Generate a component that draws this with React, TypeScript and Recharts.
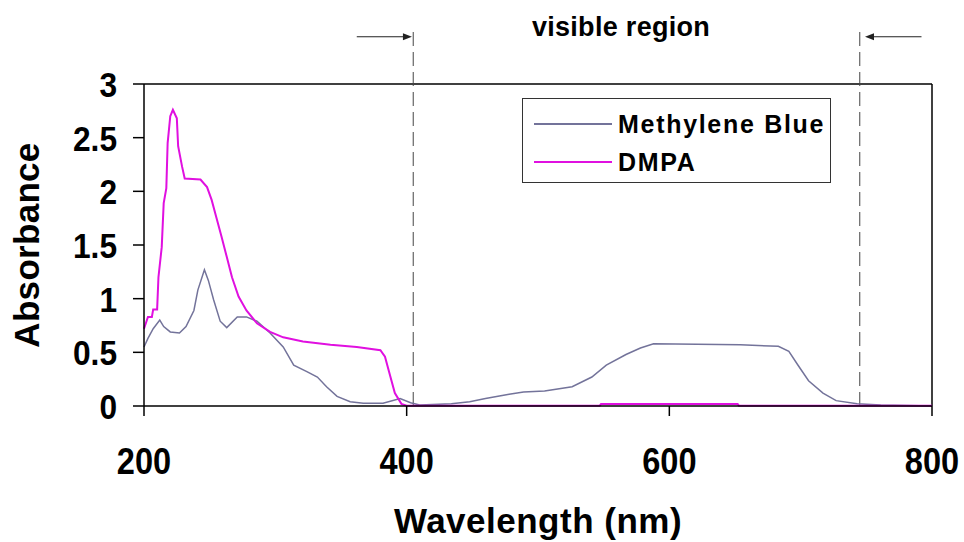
import { Legend, Line, LineChart, ReferenceLine, XAxis, YAxis } from "recharts";

// UV-Vis absorbance spectra (wavelength in nm)
const mbWavelength = [
  200, 203, 207, 212, 215, 220, 227, 232, 238, 241, 246, 249, 253, 258, 263, 271, 278, 286, 296, 306,
  314, 324, 332, 339, 347, 357, 367, 382, 395, 403, 410, 434, 448, 460, 478, 489, 505, 526, 541, 552,
  567, 578, 588, 654, 683, 691, 698, 706, 717, 727, 743, 761, 800,
];
const mbAbsorbance = [
  0.55, 0.63, 0.72, 0.8, 0.74, 0.69, 0.68, 0.74, 0.89, 1.08, 1.27, 1.17, 0.99, 0.79, 0.73, 0.83, 0.83,
  0.79, 0.68, 0.55, 0.38, 0.32, 0.27, 0.18, 0.09, 0.04, 0.025, 0.025, 0.07, 0.03, 0.01, 0.02, 0.04,
  0.07, 0.11, 0.13, 0.14, 0.18, 0.27, 0.38, 0.48, 0.54, 0.58, 0.57, 0.556, 0.51, 0.38, 0.235, 0.12,
  0.05, 0.02, 0.01, 0,
];

const dmpaWavelength = [
  200, 203, 206, 207, 210, 211, 213.5, 215, 217, 218, 220, 222, 225, 226, 229, 231, 243, 248, 251.5,
  255, 259, 263, 267, 272, 278, 286, 296, 306, 321, 342, 362, 380, 383.5, 387, 391, 396, 400, 547, 548,
  652, 653, 800,
];
const dmpaAbsorbance = [
  0.72, 0.83, 0.83, 0.9, 0.9, 1.2, 1.48, 1.89, 2.03, 2.45, 2.7, 2.76, 2.68, 2.42, 2.23, 2.12, 2.11,
  2.04, 1.92, 1.76, 1.58, 1.39, 1.2, 1.02, 0.89, 0.77, 0.69, 0.64, 0.6, 0.57, 0.55, 0.52, 0.46, 0.3,
  0.12, 0.02, 0.003, 0.003, 0.018, 0.018, 0.003, 0.003,
];

const seriesNames = ["Methylene Blue", "DMPA"];
const xTicks = [200, 400, 600, 800];
const yTicks = [0, 0.5, 1, 1.5, 2, 2.5, 3];

// visible-region markers above the plot
const visibleEdges = [405, 745];
const markerTop = 3.54;
const arrowLevel = 3.44;
const leftArrow = [362, 404];
const rightArrow = [792, 749];

const mbData = mbWavelength.map((wl, i) => ({ wl, abs: mbAbsorbance[i] }));
const dmpaData = dmpaWavelength.map((wl, i) => ({ wl, abs: dmpaAbsorbance[i] }));

const MB_COLOR = "#73739a";
const DMPA_COLOR = "#e010e0";
const FONT = "'Liberation Sans', Arial, sans-serif";

// tick digits are drawn slightly condensed
function XTick({ x, y, payload }: any) {
  return (
    <text
      transform={`translate(${x},${y}) scale(0.88,1)`}
      textAnchor="middle"
      dy="0.71em"
      fill="#000"
      fontFamily={FONT}
      fontWeight="bold"
      fontSize={37}
    >
      {payload.value}
    </text>
  );
}

function YTick({ x, y, payload }: any) {
  return (
    <text
      transform={`translate(${x},${y}) scale(0.88,1)`}
      textAnchor="end"
      dy="0.36em"
      fill="#000"
      fontFamily={FONT}
      fontWeight="bold"
      fontSize={36}
    >
      {payload.value}
    </text>
  );
}

function Arrow(props: any) {
  const { x1, y1, x2, y2 } = props;
  const dir = Math.sign(x2 - x1);
  return (
    <g>
      <line x1={x1} y1={y1} x2={x2 - dir * 6} y2={y2} stroke="#222" strokeWidth={1.2} />
      <polygon
        points={`${x2},${y2} ${x2 - dir * 9},${y2 - 3.5} ${x2 - dir * 9},${y2 + 3.5}`}
        fill="#222"
      />
    </g>
  );
}

function LegendBox({ payload }: any) {
  const items = [...(payload || [])].sort(
    (a: any, b: any) => seriesNames.indexOf(a.value) - seriesNames.indexOf(b.value)
  );
  return (
    <div
      style={{
        position: "relative",
        width: 307,
        height: 83,
        border: "1px solid #333",
        background: "#fff",
        fontFamily: FONT,
        fontWeight: "bold",
        fontSize: 25,
        letterSpacing: 1.7,
      }}
    >
      {items.map((entry: any, i: number) => (
        <div
          key={entry.value}
          style={{ position: "absolute", left: 11, top: 10 + i * 38, display: "flex", alignItems: "center" }}
        >
          <svg width={78} height={30} style={{ display: "block" }}>
            <line x1={0} y1={15} x2={78} y2={15} stroke={entry.color} strokeWidth={2} />
          </svg>
          <span style={{ marginLeft: 6, lineHeight: "30px", color: "#000" }}>{entry.value}</span>
        </div>
      ))}
    </div>
  );
}

export default function App() {
  return (
    <div style={{ position: "absolute", left: 0, top: 0, width: 964, height: 542, background: "#fff" }}>
      <div
        style={{
          position: "absolute",
          left: 0,
          width: 1242,
          top: 11,
          textAlign: "center",
          fontFamily: FONT,
          fontWeight: "bold",
          fontSize: 27,
          letterSpacing: 0.3,
          lineHeight: "32px",
        }}
      >
        visible region
      </div>
      <LineChart
        width={964}
        height={542}
        margin={{ top: 84, right: 32, bottom: 0, left: 24 }}
        style={{ position: "absolute", left: 0, top: 0 }}
      >
        <XAxis
          dataKey="wl"
          type="number"
          domain={[200, 800]}
          ticks={xTicks}
          allowDuplicatedCategory={false}
          height={136}
          stroke="#000"
          strokeWidth={1.5}
          tickSize={10}
          tickMargin={32}
          tick={<XTick />}
          label={{
            value: "Wavelength (nm)",
            position: "insideBottom",
            offset: 9,
            fill: "#000",
            fontFamily: FONT,
            fontWeight: "bold",
            fontSize: 35,
            letterSpacing: 0.5,
          }}
        />
        <YAxis
          type="number"
          domain={[0, 3]}
          ticks={yTicks}
          width={120}
          stroke="#000"
          strokeWidth={1.5}
          tickSize={11}
          tickMargin={16}
          tick={<YTick />}
          label={{
            value: "Absorbance",
            angle: -90,
            position: "center",
            dx: -57,
            fill: "#000",
            fontFamily: FONT,
            fontWeight: "bold",
            fontSize: 35,
            letterSpacing: 0.3,
          }}
        />
        <ReferenceLine y={3} stroke="#000" strokeWidth={1.5} />
        <ReferenceLine x={800} stroke="#000" strokeWidth={1.5} />
        {visibleEdges.map((edge) => (
          <ReferenceLine
            key={edge}
            segment={[
              { x: edge, y: 0 },
              { x: edge, y: markerTop },
            ]}
            ifOverflow="visible"
            stroke="#444"
            strokeWidth={1}
            strokeDasharray="14 6"
          />
        ))}
        {[leftArrow, rightArrow].map(([from, to]) => (
          <ReferenceLine
            key={from}
            segment={[
              { x: from, y: arrowLevel },
              { x: to, y: arrowLevel },
            ]}
            ifOverflow="visible"
            shape={Arrow}
          />
        ))}
        <Line
          data={mbData}
          dataKey="abs"
          name={seriesNames[0]}
          type="linear"
          stroke={MB_COLOR}
          strokeWidth={1.5}
          dot={false}
          isAnimationActive={false}
        />
        <Line
          data={dmpaData}
          dataKey="abs"
          name={seriesNames[1]}
          type="linear"
          stroke={DMPA_COLOR}
          strokeWidth={2}
          dot={false}
          isAnimationActive={false}
        />
        <Legend
          layout="vertical"
          verticalAlign="middle"
          align="center"
          wrapperStyle={{ left: 522, top: 98, width: 309 }}
          content={<LegendBox />}
        />
      </LineChart>
    </div>
  );
}
